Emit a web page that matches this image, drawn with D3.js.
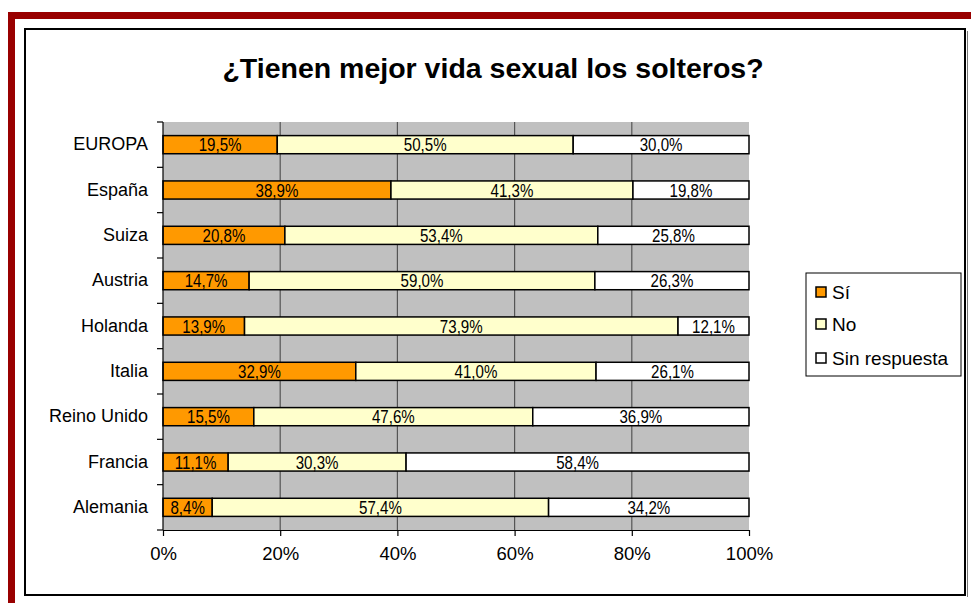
<!DOCTYPE html>
<html><head><meta charset="utf-8">
<script src="https://cdn.jsdelivr.net/npm/d3@7"></script>
<style>body{margin:0;background:#fff}svg{display:block}</style>
</head><body>
<svg id="c" width="971" height="603"></svg>
<script>
const categories = ["EUROPA","España","Suiza","Austria","Holanda","Italia","Reino Unido","Francia","Alemania"];
const si  = [19.5,38.9,20.8,14.7,13.9,32.9,15.5,11.1,8.4];
const no  = [50.5,41.3,53.4,59.0,73.9,41.0,47.6,30.3,57.4];
const sin = [30.0,19.8,25.8,26.3,12.1,26.1,36.9,58.4,34.2];
const seriesNames = ["Sí","No","Sin respuesta"];
const colors = ["#FF9900","#FFFFCC","#FFFFFF"];
const xTicks = [0,0.2,0.4,0.6,0.8,1];

const svg = d3.select("#c");
const font = "'Liberation Sans', Arial, sans-serif";

// outer red border
svg.append("rect").attr("x",8).attr("y",12).attr("width",963).attr("height",7).attr("fill","#990000");
svg.append("rect").attr("x",8).attr("y",12).attr("width",7).attr("height",591).attr("fill","#990000");
// black frame
svg.append("rect").attr("x",25).attr("y",29).attr("width",940).attr("height",566)
  .attr("fill","none").attr("stroke","#000").attr("stroke-width",2);
svg.append("line").attr("x1",967.5).attr("x2",967.5).attr("y1",31).attr("y2",597).attr("stroke","#777").attr("stroke-width",1);

// title
svg.append("text").attr("x",493).attr("y",78).attr("text-anchor","middle")
  .attr("font-family",font).attr("font-weight","bold").attr("font-size",28.5)
  .text("¿Tienen mejor vida sexual los solteros?");

const L=163,R=749,T=122,B=530;
const x = d3.scaleLinear().domain([0,1]).range([L,R]);
const y = d3.scaleBand().domain(categories).range([T,B]).paddingInner(0.6).paddingOuter(0.3);

const g = svg.append("g");
g.append("rect").attr("x",L).attr("y",T).attr("width",R-L).attr("height",B-T).attr("fill","#C0C0C0");
g.selectAll("line.grid").data(xTicks.slice(1,5)).join("line").attr("class","grid")
  .attr("x1",d=>x(d)).attr("x2",d=>x(d)).attr("y1",T).attr("y2",B)
  .attr("stroke","#555").attr("stroke-width",1.2);

// stacked data
const rows = categories.map((c,i)=>{const s=si[i]+no[i]+sin[i];return {c, vals:[si[i],no[i],sin[i]], sum:s};});
rows.forEach(r=>{
  let acc=0;
  r.vals.forEach((v,k)=>{
    const x0=acc/r.sum, x1=(acc+v)/r.sum; acc+=v;
    g.append("rect").attr("x",x(x0)).attr("y",y(r.c)).attr("width",x(x1)-x(x0)).attr("height",y.bandwidth())
      .attr("fill",colors[k]).attr("stroke","#000").attr("stroke-width",1.5);
    const cx=(x(x0)+x(x1))/2, cy=y(r.c)+y.bandwidth()/2+6.5;
    g.append("text").attr("transform",`translate(${cx},${cy}) scale(0.84,1)`)
      .attr("text-anchor","middle").attr("font-family",font).attr("font-size",18)
      .text(v.toFixed(1).replace(".",",")+"%");
  });
});

// axes
const yAxis = d3.axisLeft(y).tickSize(0).tickPadding(15);
const ya = svg.append("g").attr("transform",`translate(${L},0)`).call(yAxis);
ya.select(".domain").attr("stroke","#000").attr("stroke-width",1.2).attr("d",`M0,${T}V${B}`);
ya.selectAll("text").attr("font-family",font).attr("font-size",18).attr("fill","#000");
// category separators ticks
const bounds = d3.range(categories.length+1).map(i=>T+i*(B-T)/categories.length);
svg.selectAll("line.yt").data(bounds).join("line").attr("class","yt")
  .attr("x1",L-6).attr("x2",L).attr("y1",d=>d).attr("y2",d=>d).attr("stroke","#000").attr("stroke-width",1.2);

const xAxis = d3.axisBottom(x).tickValues(xTicks).tickFormat(d3.format(".0%")).tickSize(6).tickSizeOuter(0).tickPadding(11);
const xa = svg.append("g").attr("transform",`translate(0,${B})`).call(xAxis);
xa.select(".domain").attr("stroke","#000").attr("stroke-width",1.2);
xa.selectAll(".tick line").attr("stroke","#000").attr("stroke-width",1.2);
xa.selectAll("text").attr("font-family",font).attr("font-size",18.5).attr("fill","#000");

// legend
const lg = svg.append("g");
lg.append("rect").attr("x",806).attr("y",273).attr("width",155).attr("height",103)
  .attr("fill","#fff").attr("stroke","#000").attr("stroke-width",1);
const ly=[292,324,358];
seriesNames.forEach((n,k)=>{
  lg.append("rect").attr("x",816).attr("y",ly[k]-5).attr("width",10).attr("height",10)
    .attr("fill",colors[k]).attr("stroke","#000").attr("stroke-width",1.5);
  lg.append("text").attr("x",832).attr("y",ly[k]+7).attr("font-family",font).attr("font-size",19).text(n);
});
</script>
</body></html>
